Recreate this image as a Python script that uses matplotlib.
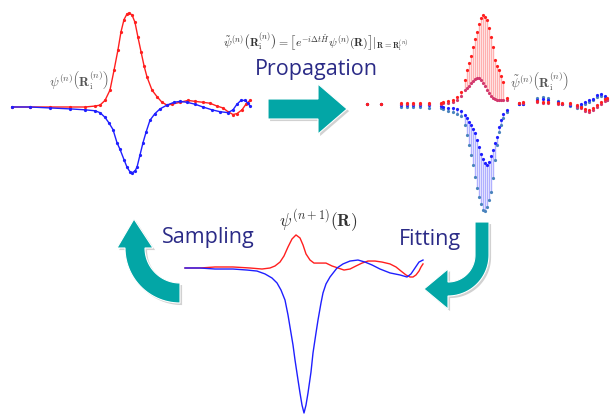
import numpy as np
import matplotlib
matplotlib.use("Agg")
import matplotlib.pyplot as plt
from matplotlib.patches import Polygon
import matplotlib.patheffects as pe

plt.rcParams["mathtext.fontset"] = "cm"

# ---------------- data ----------------
# Panel 1: psi^(n)(R_i^(n)) samples (top left)
p1_red_R = [0, 1.8, 3.8, 5.8, 7.3, 8.3, 8.8, 9.3, 9.8, 10.2, 10.6, 10.9, 11.2, 11.5, 11.7, 12.0,
            12.3, 12.6, 12.9, 13.2, 13.5, 14.0, 14.5, 15.0, 15.5, 16.0, 16.8, 17.6, 18.3, 19.1,
            19.8, 20.5, 21.1, 21.6, 22.1, 22.5, 23.0, 23.4, 23.8]
p1_red_psi = [0, 0, 0, 0, 0, 0.01, 0.02, 0.07, 0.18, 0.39, 0.61, 0.80, 0.93, 0.99, 1.00, 0.98,
              0.90, 0.74, 0.59, 0.44, 0.32, 0.18, 0.11, 0.05, 0.02, 0.03, 0.05, 0.07, 0.06, 0.05,
              0.04, 0.01, -0.01, -0.05, -0.08, -0.07, -0.03, 0.03, 0.07]
p1_blue_R = [0, 1.8, 3.8, 5.8, 7.3, 8.3, 8.8, 9.3, 9.7, 10.1, 10.5, 10.8, 11.2, 11.5, 11.8, 12.0,
             12.3, 12.5, 12.8, 13.1, 13.4, 13.8, 14.3, 14.8, 15.5, 16.2, 16.8, 17.5, 18.3, 19.1,
             20.0, 20.8, 21.6, 22.1, 22.5, 22.9, 23.3, 23.6, 23.8]
p1_blue_psi = [0, 0, -0.01, -0.02, -0.03, -0.04, -0.06, -0.11, -0.17, -0.24, -0.38, -0.45, -0.56,
               -0.64, -0.69, -0.70, -0.68, -0.64, -0.51, -0.38, -0.27, -0.14, -0.07, -0.02, 0.02,
               0.05, 0.06, 0.05, 0.03, 0.0, -0.03, -0.05, -0.06, -0.03, 0.03, 0.07, 0.07, 0.04, 0.01]

# Panel 2: propagated samples (top right)
p2_R = [0.0, 1.4, 3.4, 4.0, 4.6, 5.3, 6.2, 7.4, 7.6, 8.1, 8.6, 9.0, 9.4,
        9.8, 10.0, 10.2, 10.4, 10.6, 10.8, 11.0, 11.2, 11.4, 11.6, 11.8, 12.0, 12.2, 12.4,
        12.6, 12.8, 13.0, 13.2, 13.4, 13.6,
        14.0, 15.2, 15.6, 17.0, 17.6, 18.1, 19.1, 19.5, 20.3, 21.0, 21.4, 21.8, 22.2, 22.6,
        23.0, 23.4, 23.8, 24.0]
p2_red_outer = [0.0, 0.0, 0.01, 0.01, 0.01, 0.01, 0.01, 0.01, 0.02, 0.03, 0.04, 0.08, 0.13,
                0.27, 0.38, 0.46, 0.54, 0.64, 0.73, 0.81, 0.90, 0.97, 1.00, 0.98, 0.94, 0.85, 0.75,
                0.64, 0.49, 0.43, 0.38, 0.31, 0.25,
                0.07, 0.01, 0.02, 0.03, 0.02, 0.02, 0.01, 0.01, 0.01, -0.01, -0.03, -0.06, -0.07,
                -0.04, -0.01, 0.02, 0.06, 0.07]
p2_red_inner = [0.0, 0.0, 0.0, 0.0, 0.0, 0.0, 0.0, 0.0, 0.01, 0.01, 0.02, 0.04, 0.09,
                0.16, 0.18, 0.20, 0.24, 0.26, 0.28, 0.29, 0.29, 0.27, 0.24, 0.20, 0.16, 0.12, 0.09,
                0.07, 0.06, 0.04, 0.04, 0.04, 0.04,
                0.05, 0.01, 0.01, 0.02, 0.01, 0.01, 0.0, 0.0, 0.0, -0.03, -0.05, -0.08, -0.09,
                -0.07, -0.03, 0.0, 0.03, 0.05]
p2_blue_inner = [0.0, 0.0, -0.01, -0.01, -0.01, -0.01, -0.01, -0.02, -0.03, -0.04, -0.05, -0.06, -0.08,
                 -0.12, -0.16, -0.20, -0.24, -0.28, -0.33, -0.40, -0.48, -0.56, -0.62, -0.66, -0.69,
                 -0.65, -0.58, -0.52, -0.44, -0.37, -0.26, -0.18, -0.11,
                 -0.07, 0.0, 0.0, 0.05, 0.06, 0.05, 0.02, 0.0, -0.01, -0.02, 0.0, 0.02, 0.04,
                 0.06, 0.10, 0.11, 0.09, 0.06]
p2_blue_outer = [0.0, 0.0, -0.03, -0.03, -0.03, -0.03, -0.04, -0.05, -0.06, -0.08, -0.09, -0.11, -0.14,
                 -0.24, -0.35, -0.46, -0.57, -0.69, -0.82, -0.94, -1.04, -1.12, -1.19, -1.20, -1.16,
                 -1.08, -0.99, -0.83, -0.63, -0.46, -0.31, -0.24, -0.16,
                 -0.09, 0.0, 0.0, 0.07, 0.08, 0.07, 0.03, 0.0, -0.02, -0.04, -0.02, 0.0, 0.02,
                 0.04, 0.08, 0.09, 0.07, 0.04]

# Panel 3: fitted psi^(n+1)(R) (bottom)
p3_red_R = [0.0, 1.5, 3.0, 4.8, 6.5, 7.7, 8.5, 9.0, 9.5, 9.9, 10.3, 10.7, 11.1, 11.5, 11.8, 12.1,
            12.5, 12.9, 13.5, 14.1, 14.7, 15.3, 15.9, 16.5, 17.1, 17.7, 18.3, 19.0, 19.7, 20.5,
            21.1, 21.6, 22.1, 22.5, 22.8, 23.1, 23.4, 23.6, 23.8]
p3_red_psi = [0, 0, 0.007, 0.007, 0, -0.007, 0, 0.014, 0.041, 0.083, 0.145, 0.200, 0.228, 0.207,
              0.159, 0.097, 0.055, 0.034, 0.034, 0.034, 0.014, 0.0, -0.014, -0.007, 0.014, 0.034,
              0.048, 0.048, 0.041, 0.028, 0.007, -0.021, -0.048, -0.062, -0.062, -0.048, -0.021,
              0.007, 0.028]
p3_blue_R = [0.0, 1.5, 3.0, 4.8, 6.2, 7.2, 8.0, 8.7, 9.2, 9.6, 10.0, 10.3, 10.5, 10.8, 11.0, 11.3,
             11.5, 11.7, 11.9, 12.1, 12.3, 12.6, 12.8, 13.1, 13.3, 13.6, 13.8, 14.1, 14.5, 15.2,
             15.8, 16.5, 17.3, 18.0, 18.7, 19.5, 20.5, 21.5, 22.2, 22.6, 23.0, 23.4, 23.8]
p3_blue_psi = [0, 0, -0.007, -0.007, -0.014, -0.021, -0.041, -0.069, -0.103, -0.152, -0.221, -0.324,
               -0.407, -0.531, -0.634, -0.772, -0.862, -0.945, -1.0, -0.945, -0.862, -0.717, -0.586,
               -0.448, -0.359, -0.241, -0.172, -0.110, -0.062, 0.0, 0.028, 0.048, 0.055, 0.041,
               0.021, -0.007, -0.034, -0.048, -0.062, -0.041, 0.0, 0.041, 0.055]

# ---------------- styles ----------------
RED = "#ff1f1f"
BLUE = "#1f1fff"
CRIMSON = "#d2386d"
STEEL = "#4a84bd"
TEAL = "#03a6a6"
NAVY = "#2b2b87"
W, H = 611, 416

fig = plt.figure(figsize=(W / 100, H / 100), dpi=100)
canvas = fig.add_axes([0, 0, 1, 1])
canvas.set_xlim(0, W)
canvas.set_ylim(H, 0)
canvas.axis("off")


def panel(x0, y0, sx, sy, rlim, plim):
    left = x0 + sx * rlim[0]
    right = x0 + sx * rlim[1]
    top = y0 - sy * plim[1]
    bottom = y0 - sy * plim[0]
    ax = fig.add_axes([left / W, 1 - bottom / H, (right - left) / W, (bottom - top) / H])
    ax.set_xlim(*rlim)
    ax.set_ylim(*plim)
    ax.axis("off")
    ax.patch.set_alpha(0)
    return ax


# Panel 1
ax1 = panel(12, 107, 10, 94, (-0.5, 24.5), (-0.8, 1.05))
ax1.plot(p1_red_R, p1_red_psi, color=RED, lw=1.0, marker="o", ms=1.3, clip_on=False)
ax1.plot(p1_blue_R, p1_blue_psi, color=BLUE, lw=1.0, marker="o", ms=1.3, clip_on=False)

# Panel 2
ax2 = panel(367, 104, 10, 89, (-0.5, 24.5), (-1.3, 1.1))
ax2.vlines(p2_R, p2_red_inner, p2_red_outer, color="#ffb0b0", lw=1.0)
ax2.vlines(p2_R, p2_blue_inner, p2_blue_outer, color="#b0b0ff", lw=1.0)
mk = dict(ls="none", marker="o", ms=2.3, mew=0, clip_on=False)
ax2.plot(p2_R, p2_blue_outer, color=STEEL, **mk)
ax2.plot(p2_R, p2_blue_inner, color=BLUE, **mk)
ax2.plot(p2_R, p2_red_inner, color=CRIMSON, **mk)
ax2.plot(p2_R, p2_red_outer, color=RED, **mk)

# Panel 3
ax3 = panel(185, 268, 10, 145, (-0.5, 24.5), (-1.05, 0.3))
ax3.plot(p3_red_R, p3_red_psi, color=RED, lw=1.0, clip_on=False)
ax3.plot(p3_blue_R, p3_blue_psi, color=BLUE, lw=1.0, clip_on=False)

# ---------------- arrows ----------------
shadow = [pe.SimplePatchShadow(offset=(1.5, -1.5), shadow_rgbFace="0.6", alpha=0.45), pe.Normal()]

# Propagation arrow (straight)
prop = [(268, 99), (318, 99), (318, 84), (347, 109), (318, 134), (318, 119), (268, 119)]
canvas.add_patch(Polygon(prop, closed=True, fc=TEAL, ec="white", lw=0.8, path_effects=shadow))

# Sampling arrow (curved, pointing up)
cx, cy, ri, ro = 180, 248, 35, 55
t_in = np.linspace(np.pi, np.pi / 2, 30)
t_out = np.linspace(np.pi / 2, np.pi, 30)
samp = [(117, 248), (134, 219), (153, 248)]
samp += [(cx + ri * np.cos(t), cy + ri * np.sin(t)) for t in t_in]
samp += [(cx + ro * np.cos(t), cy + ro * np.sin(t)) for t in t_out]
canvas.add_patch(Polygon(samp, closed=True, fc=TEAL, ec="white", lw=0.8, path_effects=shadow))

# Fitting arrow (curved, pointing left)
fx, fy, fri, fro = 448, 255, 27, 41
t_o = np.linspace(0, np.pi / 2, 30)
t_i = np.linspace(np.pi / 2, 0, 30)
fit = [(475, 222), (489, 222)]
fit += [(fx + fro * np.cos(t), fy + fro * np.sin(t)) for t in t_o]
fit += [(448, 309), (424, 289), (448, 269)]
fit += [(fx + fri * np.cos(t), fy + fri * np.sin(t)) for t in t_i]
canvas.add_patch(Polygon(fit, closed=True, fc=TEAL, ec="white", lw=0.8, path_effects=shadow))

# ---------------- texts ----------------
canvas.text(79, 81, r"$\psi^{(n)}\left(\mathbf{R}_\mathrm{i}^{(n)}\right)$", fontsize=9.5,
            color="#555555", ha="center", va="center")
canvas.text(540, 82, r"$\tilde{\psi}^{(n)}\left(\mathbf{R}_\mathrm{i}^{(n)}\right)$", fontsize=9.5,
            color="#555555", ha="center", va="center")
canvas.text(316, 43,
            r"$\tilde{\psi}^{(n)}\left(\mathbf{R}_\mathrm{i}^{(n)}\right)=\left[e^{-i\Delta t\hat{H}}\psi^{(n)}(\mathbf{R})\right]|_{\mathbf{R}=\mathbf{R}_\mathrm{i}^{(n)}}$",
            fontsize=8.5, color="#333333", ha="center", va="center")
canvas.text(316, 69, "Propagation", fontsize=15.5, family="Open Sans", color=NAVY,
            ha="center", va="center")
canvas.text(318, 221, r"$\psi^{(n+1)}(\mathbf{R})$", fontsize=12.5, color="#333333",
            ha="center", va="center")
canvas.text(208, 238, "Sampling", fontsize=15.5, family="Open Sans", color=NAVY,
            ha="center", va="center")
canvas.text(430, 239, "Fitting", fontsize=15.5, family="Open Sans", color=NAVY,
            ha="center", va="center")

fig.savefig("out.png", dpi=100)
